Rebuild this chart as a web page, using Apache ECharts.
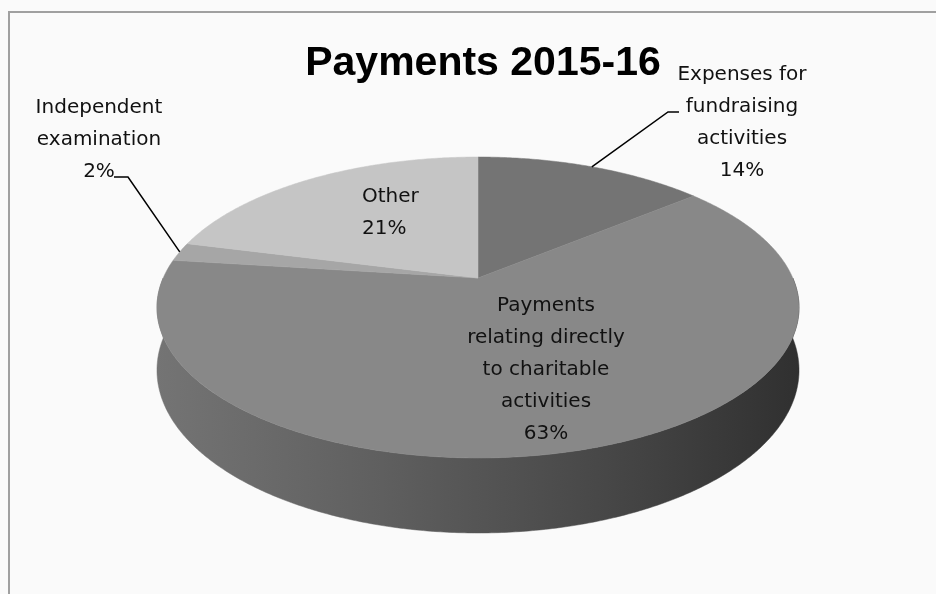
<!DOCTYPE html>
<html>
<head>
<meta charset="utf-8">
<script src="https://cdn.jsdelivr.net/npm/echarts@6/dist/echarts.min.js"></script>
<style>
html,body{margin:0;padding:0;background:#fafafa;}
#chart{width:936px;height:594px;}
</style>
</head>
<body>
<div id="chart"></div>
<script>
// ---- data (clockwise from 12 o'clock) ----
const categories = [
  'Expenses for fundraising activities',
  'Payments relating directly to charitable activities',
  'Independent examination',
  'Other'
];
const labelLines = [
  'Expenses for\nfundraising\nactivities',
  'Payments\nrelating directly\nto charitable\nactivities',
  'Independent\nexamination',
  'Other'
];
const values = [14, 63, 2, 21];
const percentLabels = ['14%', '63%', '2%', '21%'];

// ---- styles ----
const sliceColors = ['#747474', '#888888', '#a6a6a6', '#c5c5c5'];
const labelStyle = [
  { x: 742, y: 123, align: 'center', leader: [[668, 112], [679, 112]] },
  { x: 546, y: 370, align: 'center' },
  { x: 99, y: 140, align: 'center', leader: [[128, 177], [114, 177]] },
  { x: 362, y: 213, align: 'left' }
];
const GEO = { cx: 478, cy: 278, A: 314.8, B: 144.7, k: 0.196, depth: 60.3 };

const total = values.reduce((a, b) => a + b, 0);
let acc = 0;
const seriesData = values.map((v, i) => {
  const s = acc; acc += v;
  return { name: categories[i], value: [v, s] };
});

function proj(f, deg) {
  const t = deg * Math.PI / 180;
  const s = Math.sin(t), c = Math.cos(t);
  const w = 1 + GEO.k * f * c;
  return [GEO.cx + GEO.A * f * s / w, GEO.cy - GEO.B * f * c / w];
}
function projBottom(deg) {
  const t = deg * Math.PI / 180;
  const c = Math.cos(t);
  const p = proj(1, deg);
  return [p[0], p[1] + GEO.depth / (1 + GEO.k * c)];
}
function arc(a, b, fn) {
  const pts = [];
  const n = Math.max(2, Math.ceil((b - a) / 0.5));
  for (let i = 0; i <= n; i++) pts.push(fn(a + (b - a) * i / n));
  return pts;
}

const sideGradient = {
  type: 'linear', x: 157, y: 0, x2: 799, y2: 0, global: true,
  colorStops: [
    { offset: 0, color: '#747474' },
    { offset: 0.35, color: '#5f5f5f' },
    { offset: 0.7, color: '#474747' },
    { offset: 1, color: '#303030' }
  ]
};

function renderItem(params, api) {
  const i = params.dataIndex;
  const v = api.value(0), s = api.value(1);
  const a0 = s / total * 360, a1 = (s + v) / total * 360;
  const children = [];
  // side wall (front half only)
  const ss = Math.max(a0, 90), se = Math.min(a1, 270);
  if (se > ss) {
    const top = arc(ss, se, d => proj(1, d));
    const bot = arc(ss, se, projBottom).reverse();
    children.push({
      type: 'polygon', z2: 1,
      shape: { points: top.concat(bot) },
      style: { fill: sideGradient, stroke: sideGradient, lineWidth: 0.5 }
    });
  }
  // top face
  const face = [proj(0, 0)].concat(arc(a0, a1, d => proj(1, d)));
  children.push({
    type: 'polygon', z2: 10,
    shape: { points: face },
    style: { fill: sliceColors[i], stroke: sliceColors[i], lineWidth: 0.5 }
  });
  // label
  const ls = labelStyle[i];
  children.push({
    type: 'text', z2: 30,
    style: {
      text: labelLines[i] + '\n' + percentLabels[i],
      x: ls.x, y: ls.y, align: ls.align, verticalAlign: 'middle',
      fontSize: 20, lineHeight: 32, fontFamily: 'DejaVu Sans', fill: '#111'
    }
  });
  if (ls.leader) {
    const mid = (a0 + a1) / 2;
    children.push({
      type: 'polyline', z2: 20,
      shape: { points: [proj(1, mid)].concat(ls.leader) },
      style: { stroke: '#000', lineWidth: 1.5, fill: null }
    });
  }
  return { type: 'group', children };
}

const chart = echarts.init(document.getElementById('chart'), null, { renderer: 'canvas' });
chart.setOption({
  backgroundColor: '#fafafa',
  animation: false,
  title: {
    text: 'Payments 2015-16',
    left: 478, top: 38, textAlign: 'center',
    textStyle: { fontSize: 41, fontWeight: 'bold', fontFamily: 'Liberation Sans', color: '#000' }
  },
  graphic: [{
    type: 'rect', silent: true,
    shape: { x: 9, y: 12, width: 1000, height: 1000 },
    style: { fill: null, stroke: '#a0a0a0', lineWidth: 2 }
  }],
  series: [{
    type: 'custom',
    coordinateSystem: 'none',
    silent: true,
    renderItem,
    data: seriesData
  }]
});
</script>
</body>
</html>
